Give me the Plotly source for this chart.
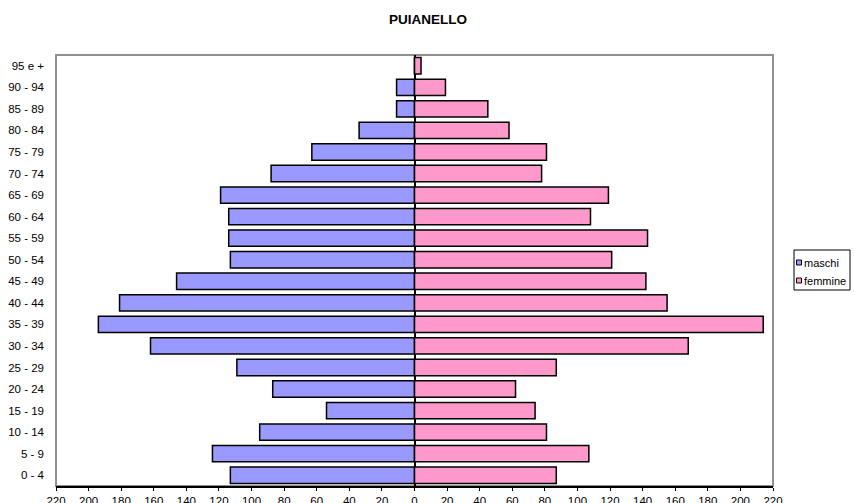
import plotly.graph_objects as go

categories = ["0 - 4", "5 - 9", "10 - 14", "15 - 19", "20 - 24", "25 - 29", "30 - 34",
              "35 - 39", "40 - 44", "45 - 49", "50 - 54", "55 - 59", "60 - 64", "65 - 69",
              "70 - 74", "75 - 79", "80 - 84", "85 - 89", "90 - 94", "95 e +"]
maschi = [113, 124, 95, 54, 87, 109, 162, 194, 181, 146, 113, 114, 114, 119, 88, 63, 34, 11, 11, 0]
femmine = [87, 107, 81, 74, 62, 87, 168, 214, 155, 142, 121, 143, 108, 119, 78, 81, 58, 45, 19, 4]
series_names = ["maschi", "femmine"]
tick_vals = list(range(-220, 221, 20))
tick_text = [str(abs(v)) for v in tick_vals]

BLUE = "#9999FF"
PINK = "#FF99CC"
W, H = 854, 503
L, R, T, B = 56, 773, 55, 486


def px(xp):
    return (xp - L) / (R - L)


def py(yp):
    return (B - yp) / (B - T)


fig = go.Figure()
fig.add_trace(go.Bar(y=categories, x=[-v for v in maschi], orientation="h", name=series_names[0],
                     marker=dict(color=BLUE, line=dict(color="black", width=1.5)),
                     showlegend=False))
fig.add_trace(go.Bar(y=categories, x=femmine, orientation="h", name=series_names[1],
                     marker=dict(color=PINK, line=dict(color="black", width=1.5)),
                     showlegend=False))

shapes = [
    dict(type="rect", xref="paper", yref="paper", x0=0, x1=1, y0=0, y1=1,
         line=dict(color="#909090", width=2), layer="below"),
    # legend box
    dict(type="rect", xref="paper", yref="paper", x0=px(794), x1=px(850), y0=py(290), y1=py(250),
         line=dict(color="black", width=1), fillcolor="white"),
]
annotations = []
for name, col, yc in [(series_names[0], BLUE, 262.5), (series_names[1], PINK, 280.5)]:
    shapes.append(dict(type="rect", xref="paper", yref="paper", x0=px(796.5), x1=px(801.5),
                       y0=py(yc + 2.5), y1=py(yc - 2.5), fillcolor=col,
                       line=dict(color="black", width=1)))
    annotations.append(dict(text=name, xref="paper", yref="paper", x=px(802), y=py(yc),
                            xanchor="left", yanchor="middle", showarrow=False,
                            font=dict(size=11)))

fig.update_layout(
    width=W, height=H,
    margin=dict(l=L, r=W - R, t=T, b=H - B, autoexpand=False),
    paper_bgcolor="white", plot_bgcolor="white",
    font=dict(family="Liberation Sans, Arial, sans-serif", size=12, color="black"),
    title=dict(text="<b>PUIANELLO</b>", x=428 / W, xanchor="center",
               y=1 - 19 / H, yanchor="middle", font=dict(size=13.5)),
    barmode="overlay", bargap=0.24,
    showlegend=False,
    xaxis=dict(range=[-220, 220], tickvals=tick_vals, ticktext=tick_text,
               showgrid=False, zeroline=True, zerolinecolor="black", zerolinewidth=2,
               showline=True, linecolor="black", linewidth=1.5, mirror=False,
               ticks="outside", ticklen=3, tickcolor="black", tickfont=dict(size=11.5),
               automargin=False),
    yaxis=dict(categoryorder="array", categoryarray=categories, showgrid=False,
               showline=False, ticks="", ticklabelstandoff=11, tickfont=dict(size=11.5),
               automargin=False),
    shapes=shapes,
    annotations=annotations,
)

fig.write_html("out.html", config={"displayModeBar": False},
               post_script="document.body.style.margin='0';document.body.style.overflow='hidden';")
